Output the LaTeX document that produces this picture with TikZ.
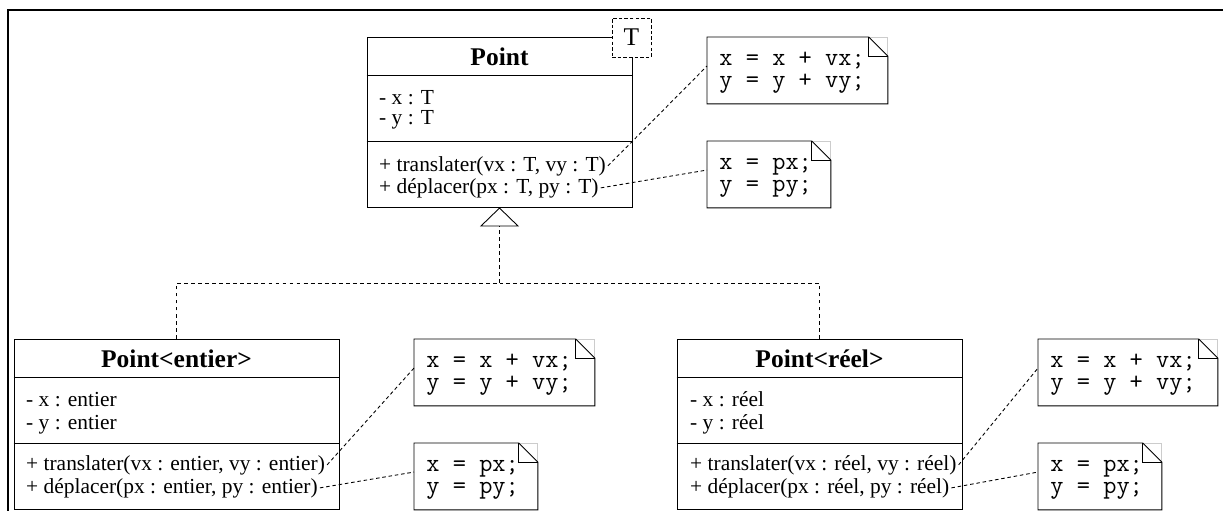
\documentclass[tikz,border=0pt]{standalone}
\usepackage{fontspec}
\setmainfont{Liberation Serif}
\usetikzlibrary{arrows.meta,calc}

\begin{document}
\begin{tikzpicture}[x=0.02cm, y=-0.02cm, line width=0.5pt,
  classbox/.style={draw, fill=white, inner sep=0pt, minimum height=3.4cm},
  ctitle/.style={font=\fontsize{14.5}{16}\selectfont\bfseries, anchor=base, inner sep=1pt},
  member/.style={font=\fontsize{12.2}{14}\selectfont, anchor=base west, inner sep=1pt},
  tparam/.style={draw, dash pattern=on 2pt off 1.2pt, fill=white, minimum size=0.78cm,
                 inner sep=0pt, font=\fontsize{14.5}{16}\selectfont},
  note/.style={anchor=north west, inner sep=0pt, minimum height=1.32cm},
  code/.style={anchor=base west, inner sep=0pt, font=\ttfamily\fontsize{14.6}{16}\selectfont},
  link/.style={dash pattern=on 2pt off 1.6pt},
  realize/.style={dash pattern=on 2.2pt off 1.8pt},
]
\useasboundingbox (0,0) rectangle (1223,511);

% ---- frame ----
\draw[line width=1.7pt] (1223,10) -- (8,10) -- (8,511);

% ---- Point<T> ----
\node[classbox, minimum width=5.3cm] (point) at (499.5,122) {};
\draw (point.west |- 0,75) -- (point.east |- 0,75);
\draw (point.west |- 0,141) -- (point.east |- 0,141);
\node[ctitle] (ptitle) at (499.5,65) {Point};
\node[member] (px) at (377,104) {- x : T};
\node[member] (py) at (377,124) {- y : T};
\node[member] (ptrans) at (377,171) {+ translater(vx : T, vy : T)};
\node[member] (pdepl) at (377,193) {+ déplacer(px : T, py : T)};
\node[tparam] (ptype) at (631.5,37.5) {T};

\node[note, minimum width=3.6cm] (pnote1) at (707,37) {};
\node[note, minimum width=2.46cm] (pnote2) at (707,141) {};

% ---- Point<entier> ----
\node[classbox, minimum width=6.5cm] (entier) at (176.5,424) {};
\draw (entier.west |- 0,377) -- (entier.east |- 0,377);
\draw (entier.west |- 0,443) -- (entier.east |- 0,443);
\node[ctitle] (etitle) at (176.5,367) {Point<entier>};
\node[member] (ex) at (24,406) {- x : entier};
\node[member] (ey) at (24,429) {- y : entier};
\node[member] (etrans) at (24,470) {+ translater(vx : entier, vy : entier)};
\node[member] (edepl) at (24,493) {+ déplacer(px : entier, py : entier)};

\node[note, minimum width=3.6cm] (enote1) at (414,339) {};
\node[note, minimum width=2.46cm] (enote2) at (414,443) {};

% ---- Point<réel> ----
\node[classbox, minimum width=5.7cm] (reel) at (819.5,424) {};
\draw (reel.west |- 0,377) -- (reel.east |- 0,377);
\draw (reel.west |- 0,443) -- (reel.east |- 0,443);
\node[ctitle] (rtitle) at (819.5,367) {Point<réel>};
\node[member] (rx) at (688,406) {- x : réel};
\node[member] (ry) at (688,429) {- y : réel};
\node[member] (rtrans) at (688,470) {+ translater(vx : réel, vy : réel)};
\node[member] (rdepl) at (688,493) {+ déplacer(px : réel, py : réel)};

\node[note, minimum width=3.58cm] (rnote1) at (1038,339) {};
\node[note, minimum width=2.46cm] (rnote2) at (1038,443) {};

% ---- note outlines with folded corner, and their code ----
\foreach \n in {pnote1,pnote2,enote1,enote2,rnote1,rnote2} {
  \draw[gray!40] ($(\n.north east)+(-19,0)$) -- (\n.north east) -- ++(0,19);
  \draw ($(\n.north east)+(-19,0)$) -- (\n.north west) -- (\n.south west)
    -- (\n.south east) -- ($(\n.north east)+(0,19)$) -- cycle;
  \draw ($(\n.north east)+(-19,0)$) -- ++(0,19) -- ++(19,0);
}
\foreach \n in {pnote1,enote1,rnote1} {
  \node[code] (\n a) at ($(\n.north west)+(12,28)$) {x = x + vx;};
  \node[code] (\n b) at ($(\n.north west)+(12,50)$) {y = y + vy;};
}
\foreach \n in {pnote2,enote2,rnote2} {
  \node[code] (\n a) at ($(\n.north west)+(12,28)$) {x = px;};
  \node[code] (\n b) at ($(\n.north west)+(12,50)$) {y = py;};
}

% ---- realisation ----
\coordinate (hub) at (499.5,283);
\draw[realize] (entier.north) |- (hub);
\draw[realize] (reel.north) |- (hub);
\draw[realize, -{Triangle[open, length=0.38cm, width=0.78cm]}] (hub) -- (point.south);

% ---- note links ----
\draw[link] (ptrans.east) -- ([yshift=2.5pt]pnote1.west);
\draw[link] (pdepl.east) -- ([yshift=2.5pt]pnote2.west);
\draw[link] (etrans.east) -- ([yshift=2.5pt]enote1.west);
\draw[link] (edepl.east) -- ([yshift=2.5pt]enote2.west);
\draw[link] (rtrans.east) -- ([yshift=2.5pt]rnote1.west);
\draw[link] (rdepl.east) -- ([yshift=2.5pt]rnote2.west);

\end{tikzpicture}
\end{document}
